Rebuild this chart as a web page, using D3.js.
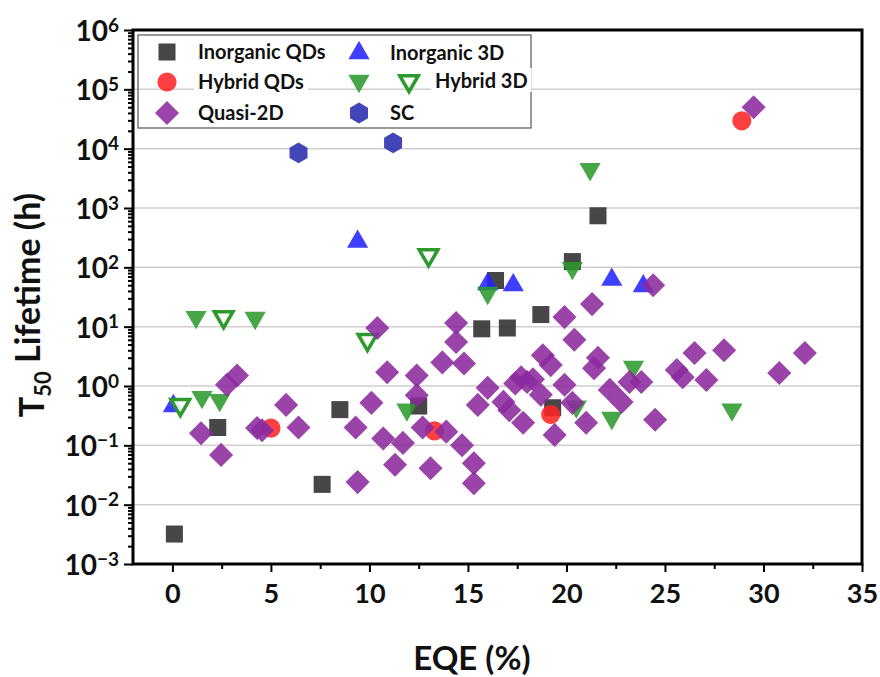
<!DOCTYPE html>
<html>
<head>
<meta charset="utf-8">
<script src="https://cdn.jsdelivr.net/npm/d3@7"></script>
<style>
  body { margin: 0; background: #fff; }
  text { font-family: Lato, "Open Sans", sans-serif; font-weight: bold; fill: #111; }
</style>
</head>
<body>
<div id="chart"></div>
<script>
// ---- data (EQE in %, T50 in hours) ----
const inorgQdEqe  = [0.1, 2.3, 7.6, 8.5, 12.5, 15.7, 17.0, 18.7, 16.4, 20.3, 21.6, 19.3];
const inorgQdLife = [0.0032, 0.2, 0.022, 0.40, 0.46, 9.2, 9.5, 16, 60, 125, 740, 0.43];

const hybQdEqe  = [5.0, 13.3, 19.2, 28.9];
const hybQdLife = [0.195, 0.175, 0.33, 29500];

const inorg3dEqe  = [0.05, 9.4, 16.0, 17.3, 22.3, 23.9];
const inorg3dLife = [0.46, 270, 52, 50, 62, 48];

const hyb3dEqe  = [1.2, 4.2, 1.5, 2.4, 11.9, 16.0, 20.3, 21.2, 22.3, 20.5, 23.4, 28.4];
const hyb3dLife = [14.5, 14, 0.65, 0.58, 0.40, 37, 97, 4500, 0.29, 0.45, 2.1, 0.40];

const hyb3dOpenEqe  = [0.4, 2.6, 9.9, 13.0];
const hyb3dOpenLife = [0.48, 14.5, 6.0, 160];

const quasiEqe = [3.28, 2.77, 5.77, 1.45, 4.3, 4.55, 6.4, 2.47, 9.3, 10.1, 9.4, 10.4,
  14.4, 14.4, 13.7, 14.8, 10.9, 12.4, 12.4, 10.7, 11.7, 12.7, 13.9, 14.7, 11.3, 13.1,
  15.3, 15.3, 16.0, 15.5, 16.8, 17.1, 17.7, 18.0, 17.4, 18.3, 17.8, 18.7, 18.8, 19.2,
  19.9, 21.3, 20.4, 19.9, 19.4, 20.3, 21.0, 21.6, 21.4, 22.2, 22.8, 23.2, 23.8, 24.5,
  25.6, 25.9, 26.5, 27.1, 28.0, 30.8, 32.1, 29.5, 24.4];
const quasiLife = [1.5, 1.05, 0.48, 0.16, 0.196, 0.18, 0.2, 0.069, 0.2, 0.52, 0.024, 9.5,
  11.5, 5.5, 2.5, 2.4, 1.7, 1.5, 0.7, 0.13, 0.11, 0.2, 0.17, 0.10, 0.047, 0.041,
  0.05, 0.023, 0.93, 0.48, 0.54, 0.39, 1.4, 1.17, 1.1, 1.3, 0.24, 0.71, 3.3, 2.25,
  14.5, 24, 6, 1.05, 0.15, 0.52, 0.24, 3.0, 2.0, 0.86, 0.54, 1.17, 1.17, 0.27,
  1.86, 1.4, 3.6, 1.26, 4.0, 1.66, 3.6, 50000, 50];

const scEqe  = [6.4, 11.2];
const scLife = [8500, 12500];

const xTicks = [0, 5, 10, 15, 20, 25, 30, 35];
const xMinor = [2.5, 7.5, 12.5, 17.5, 22.5, 27.5, 32.5];
const yExps  = [-3, -2, -1, 0, 1, 2, 3, 4, 5, 6];

// ---- layout ----
const W = 880, H = 677;
const margin = {top: 30, right: 18, bottom: 113, left: 133};
const width = W - margin.left - margin.right,
      height = H - margin.top - margin.bottom;

const svg = d3.select("#chart").append("svg")
    .attr("width", W).attr("height", H);
const g = svg.append("g")
    .attr("transform", "translate(" + margin.left + "," + margin.top + ")");

const x = d3.scaleLinear().domain([-2, 35]).range([0, width]);
const y = d3.scaleLog().domain([1e-3, 1e6]).range([height, 0]);

// gridlines
g.append("g").selectAll("line")
    .data(yExps.slice(1, -1).map(e => Math.pow(10, e)))
    .enter().append("line")
    .attr("x1", 0).attr("x2", width)
    .attr("y1", d => y(d)).attr("y2", d => y(d))
    .attr("stroke", "#cfcfcf").attr("stroke-width", 1.5);

// hexagon symbol (pointy top)
const symbolHex = {
  draw(ctx, size) {
    const r = Math.sqrt(size / (1.5 * Math.sqrt(3)));
    for (let i = 0; i < 6; i++) {
      const a = Math.PI / 3 * i - Math.PI / 2;
      if (i === 0) ctx.moveTo(r * Math.cos(a), r * Math.sin(a));
      else ctx.lineTo(r * Math.cos(a), r * Math.sin(a));
    }
    ctx.closePath();
  }
};

const series = [
  {name: "Inorganic QDs", xs: inorgQdEqe, ys: inorgQdLife, type: d3.symbolSquare, size: 290, rot: 0, fill: "#2d2d2d"},
  {name: "Hybrid QDs", xs: hybQdEqe, ys: hybQdLife, type: d3.symbolCircle, size: 290, rot: 0, fill: "#ff2626"},
  {name: "Inorganic 3D", xs: inorg3dEqe, ys: inorg3dLife, type: d3.symbolTriangle, size: 195, rot: 0, fill: "#2424ff"},
  {name: "Hybrid 3D", xs: hyb3dEqe, ys: hyb3dLife, type: d3.symbolTriangle, size: 195, rot: 180, fill: "#2e9a2e"},
  {name: "Hybrid 3D open", xs: hyb3dOpenEqe, ys: hyb3dOpenLife, type: d3.symbolTriangle, size: 150, rot: 180, fill: "#fff", stroke: "#2e9a2e"},
  {name: "Quasi-2D", xs: quasiEqe, ys: quasiLife, type: d3.symbolSquare, size: 290, rot: 45, fill: "#8c2a9e"},
  {name: "SC", xs: scEqe, ys: scLife, type: symbolHex, size: 280, rot: 0, fill: "#2b2bb0"}
];

function drawSymbol(sel, s) {
  sel.attr("d", d3.symbol().type(s.type).size(s.size))
    .attr("fill", s.fill)
    .attr("fill-opacity", s.stroke ? 0.9 : 0.88)
    .attr("stroke", s.stroke || "none")
    .attr("stroke-width", s.stroke ? 3.5 : 0);
}

series.forEach(s => {
  const pts = s.xs.map((v, i) => ({x: v, y: s.ys[i]}));
  g.append("g").selectAll("path")
    .data(pts).enter().append("path")
    .attr("transform", d => "translate(" + x(d.x) + "," + y(d.y) + ") rotate(" + s.rot + ")")
    .call(drawSymbol, s);
});

// frame
g.append("rect")
    .attr("width", width).attr("height", height)
    .attr("fill", "none").attr("stroke", "#000").attr("stroke-width", 3);

// x axis
const xAxis = g.append("g").attr("transform", "translate(0," + height + ")")
    .call(d3.axisBottom(x).tickValues(xTicks).tickSize(8).tickPadding(12));
xAxis.selectAll("text").style("font-size", "27px");
g.append("g").attr("transform", "translate(0," + height + ")")
    .call(d3.axisBottom(x).tickValues(xMinor).tickSize(5).tickFormat(""));

// y axis
const yAxis = g.append("g")
    .call(d3.axisLeft(y).tickValues(yExps.map(e => Math.pow(10, e))).tickSize(9).tickFormat(""));
const yLab = yAxis.selectAll(".tick").append("text")
    .attr("x", -14).attr("dy", "0.38em")
    .attr("text-anchor", "end")
    .style("font-size", "28px");
yLab.append("tspan").text("10");
yLab.append("tspan").attr("dy", "-0.5em").style("font-size", "19px")
    .text((d, i) => String(yExps[i]).replace("-", "\u2212"));

const yMinor = y.ticks().filter(v => Math.abs(Math.log10(v) - Math.round(Math.log10(v))) > 1e-6);
g.append("g").call(d3.axisLeft(y).tickValues(yMinor).tickSize(5).tickFormat(""));

g.selectAll(".domain").remove();
g.selectAll(".tick line").attr("stroke", "#000").attr("stroke-width", 2);

// axis titles
svg.append("text")
    .attr("x", margin.left + x(15.2)).attr("y", 670)
    .attr("text-anchor", "middle").style("font-size", "33px")
    .text("EQE (%)");

const yt = svg.append("text")
    .attr("transform", "translate(44," + (margin.top + height / 2 + 8) + ") rotate(-90)")
    .attr("text-anchor", "middle").style("font-size", "34px");
yt.append("tspan").text("T");
yt.append("tspan").attr("dy", "0.3em").style("font-size", "22px").text("50");
yt.append("tspan").attr("dy", "-0.3em").text(" Lifetime (h)");

// legend
const legend = svg.append("g");
legend.append("rect")
    .attr("x", 138).attr("y", 35).attr("width", 393).attr("height", 93)
    .attr("fill", "none").attr("stroke", "#555").attr("stroke-width", 1.2);

const legItems = [
  {s: series[0], sx: 167, sy: 52, label: "Inorganic QDs", tx: 198},
  {s: series[2], sx: 359, sy: 53, label: "Inorganic 3D", tx: 390},
  {s: series[1], sx: 167, sy: 82, label: "Hybrid QDs", tx: 198},
  {s: series[3], sx: 359, sy: 81, label: null},
  {s: series[4], sx: 409, sy: 81, label: "Hybrid 3D", tx: 435},
  {s: series[5], sx: 167, sy: 113, label: "Quasi-2D", tx: 198},
  {s: series[6], sx: 359, sy: 113, label: "SC", tx: 390}
];
legItems.forEach(it => {
  legend.append("path")
    .attr("transform", "translate(" + it.sx + "," + it.sy + ") rotate(" + it.s.rot + ")")
    .call(drawSymbol, it.s);
  if (it.label) {
    const bg = legend.append("rect").attr("fill", "#fff");
    const t = legend.append("text")
      .attr("x", it.tx).attr("y", it.sy + 7)
      .style("font-size", "20px")
      .text(it.label);
    const b = t.node().getBBox();
    bg.attr("x", b.x - 4).attr("y", b.y).attr("width", b.width + 8).attr("height", b.height);
  }
});
</script>
</body>
</html>
